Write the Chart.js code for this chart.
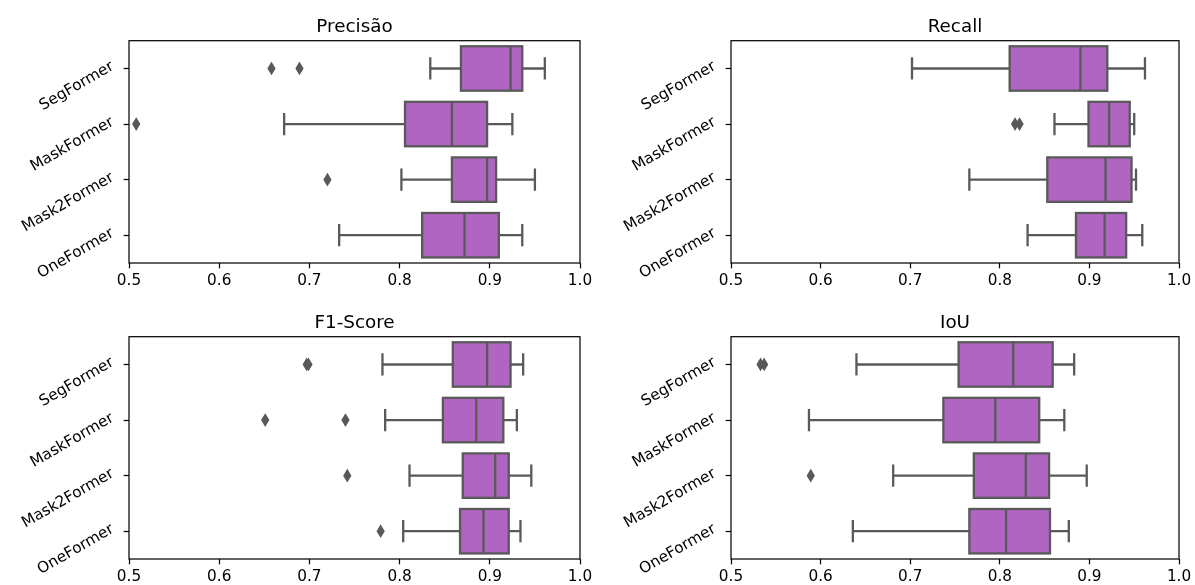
<!DOCTYPE html>
<html><head><meta charset="utf-8">
<script src="https://cdn.jsdelivr.net/npm/chart.js@4.4.0/dist/chart.umd.min.js"></script>
<style>
html,body{margin:0;padding:0;background:#fff;}
#wrap{position:relative;width:1195px;height:585px;overflow:hidden;background:#fff;}
canvas{position:absolute;}
</style></head><body>
<div id="wrap">
<canvas id="c0" width="597" height="292" style="left:0px;top:0px"></canvas>
<canvas id="c1" width="598" height="292" style="left:597px;top:0px"></canvas>
<canvas id="c2" width="597" height="293" style="left:0px;top:292px"></canvas>
<canvas id="c3" width="598" height="293" style="left:597px;top:292px"></canvas>
</div>
<script>
const models = ['SegFormer', 'MaskFormer', 'Mask2Former', 'OneFormer'];
const xTicks = [0.5, 0.6, 0.7, 0.8, 0.9, 1.0];

const precisaoMin = [0.834, 0.672, 0.802, 0.733];
const precisaoQ1  = [0.868, 0.806, 0.858, 0.825];
const precisaoMed = [0.923, 0.858, 0.897, 0.872];
const precisaoQ3  = [0.936, 0.897, 0.907, 0.910];
const precisaoMax = [0.961, 0.925, 0.950, 0.936];
const precisaoOut = [[0.658, 0.689], [0.508], [0.720], []];

const recallMin = [0.702, 0.861, 0.766, 0.831];
const recallQ1  = [0.811, 0.899, 0.853, 0.885];
const recallMed = [0.890, 0.922, 0.918, 0.917];
const recallQ3  = [0.920, 0.945, 0.947, 0.941];
const recallMax = [0.962, 0.950, 0.952, 0.959];
const recallOut = [[], [0.817, 0.822], [], []];

const f1Min = [0.781, 0.784, 0.811, 0.804];
const f1Q1  = [0.859, 0.848, 0.870, 0.867];
const f1Med = [0.897, 0.885, 0.906, 0.893];
const f1Q3  = [0.923, 0.915, 0.921, 0.921];
const f1Max = [0.937, 0.930, 0.946, 0.934];
const f1Out = [[0.697, 0.699], [0.651, 0.740], [0.742], [0.779]];

const iouMin = [0.640, 0.587, 0.681, 0.636];
const iouQ1  = [0.754, 0.737, 0.771, 0.766];
const iouMed = [0.815, 0.795, 0.829, 0.807];
const iouQ3  = [0.859, 0.844, 0.855, 0.856];
const iouMax = [0.883, 0.872, 0.897, 0.877];
const iouOut = [[0.533, 0.537], [], [0.589], []];

const FILL = '#b065c3';
const GRAY = '#595959';
const PX = 110 / 72;
const FONT = 'DejaVu Sans';
Chart.defaults.font.family = FONT;
Chart.defaults.color = '#000';

function makeBoxPlugin(stats) {
  return {
    id: 'boxExtras',
    afterDatasetsDraw(chart) {
      const ctx = chart.ctx;
      const xs = chart.scales.x;
      const meta = chart.getDatasetMeta(0);
      ctx.save();
      ctx.strokeStyle = GRAY;
      ctx.lineCap = 'butt';
      ctx.lineJoin = 'miter';
      meta.data.forEach((bar, i) => {
        const p = bar.getProps(['x', 'y', 'base', 'height'], true);
        const top = p.y - p.height / 2, bot = p.y + p.height / 2;
        const left = Math.min(p.x, p.base), right = Math.max(p.x, p.base);
        ctx.lineWidth = 1.5 * PX;
        ctx.strokeRect(left, top, right - left, bot - top);
        const lo = xs.getPixelForValue(stats.min[i]);
        const hi = xs.getPixelForValue(stats.max[i]);
        const md = xs.getPixelForValue(stats.med[i]);
        const cap = p.height / 4;
        ctx.beginPath();
        ctx.moveTo(lo, p.y); ctx.lineTo(left, p.y);
        ctx.moveTo(right, p.y); ctx.lineTo(hi, p.y);
        ctx.moveTo(lo, p.y - cap); ctx.lineTo(lo, p.y + cap);
        ctx.moveTo(hi, p.y - cap); ctx.lineTo(hi, p.y + cap);
        ctx.moveTo(md, top); ctx.lineTo(md, bot);
        ctx.stroke();
        // outliers: thin diamonds
        const hh = 5 * PX * 0.7071, hw = hh * 0.6;
        ctx.fillStyle = GRAY;
        ctx.lineWidth = 1.0 * PX;
        stats.out[i].forEach(v => {
          const ox = xs.getPixelForValue(v);
          ctx.beginPath();
          ctx.moveTo(ox, p.y - hh);
          ctx.lineTo(ox + hw, p.y);
          ctx.lineTo(ox, p.y + hh);
          ctx.lineTo(ox - hw, p.y);
          ctx.closePath();
          ctx.fill();
          ctx.stroke();
        });
      });
      ctx.restore();
    },
    afterDraw(chart) {
      const a = chart.chartArea;
      const ctx = chart.ctx;
      ctx.save();
      ctx.strokeStyle = '#000';
      ctx.lineWidth = 0.8 * PX;
      ctx.strokeRect(a.left, a.top, a.right - a.left, a.bottom - a.top);
      ctx.restore();
    }
  };
}

function makeChart(id, title, stats, geo) {
  const ds = models.map((m, i) => [stats.q1[i], stats.q3[i]]);
  return new Chart(document.getElementById(id), {
    type: 'bar',
    data: {
      labels: models,
      datasets: [{
        data: ds,
        backgroundColor: FILL,
        borderWidth: 0,
        barPercentage: 0.8,
        categoryPercentage: 1.0
      }]
    },
    options: {
      indexAxis: 'y',
      responsive: false,
      animation: false,
      devicePixelRatio: 1,
      layout: { padding: { left: 0, right: geo.right, top: 0, bottom: 0 } },
      plugins: {
        legend: { display: false },
        tooltip: { enabled: false },
        title: {
          display: true, text: title, fullSize: false, color: '#000',
          font: { family: FONT, size: 12 * PX, weight: 'normal', lineHeight: 1.2 },
          padding: { top: geo.tTop, bottom: geo.tBot }
        }
      },
      scales: {
        x: {
          type: 'linear', min: 0.5, max: 1.0,
          afterBuildTicks: s => { s.ticks = xTicks.map(v => ({ value: v })); },
          ticks: { callback: v => Number(v).toFixed(1), color: '#000', font: { size: 10 * PX }, padding: 3.5 * PX - 1.5, maxRotation: 0, autoSkip: false },
          grid: { display: true, drawOnChartArea: false, tickLength: 3.5 * PX, tickWidth: 0.8 * PX, tickColor: '#000' },
          border: { display: false },
          afterFit: s => { s.height = geo.xh; }
        },
        y: {
          type: 'category',
          ticks: { color: '#000', font: { size: 10 * PX }, padding: 11, minRotation: 30, maxRotation: 30, labelOffset: -3, autoSkip: false },
          grid: { display: true, offset: false, drawOnChartArea: false, tickLength: 3.5 * PX, tickWidth: 0.8 * PX, tickColor: '#000' },
          border: { display: false },
          afterFit: s => { s.width = geo.yw; }
        }
      }
    },
    plugins: [makeBoxPlugin(stats)]
  });
}

const lh = 12 * PX * 1.2;
makeChart('c0', 'Precisão',
  { min: precisaoMin, q1: precisaoQ1, med: precisaoMed, q3: precisaoQ3, max: precisaoMax, out: precisaoOut },
  { right: 17, yw: 129, xh: 29, tTop: 27 - lh / 2, tBot: 40.7 - 27 - lh / 2 });
makeChart('c1', 'Recall',
  { min: recallMin, q1: recallQ1, med: recallMed, q3: recallQ3, max: recallMax, out: recallOut },
  { right: 14, yw: 134, xh: 29, tTop: 27 - lh / 2, tBot: 40.7 - 27 - lh / 2 });
makeChart('c2', 'F1-Score',
  { min: f1Min, q1: f1Q1, med: f1Med, q3: f1Q3, max: f1Max, out: f1Out },
  { right: 17, yw: 129, xh: 26, tTop: 31 - lh / 2, tBot: 44.7 - 31 - lh / 2 });
makeChart('c3', 'IoU',
  { min: iouMin, q1: iouQ1, med: iouMed, q3: iouQ3, max: iouMax, out: iouOut },
  { right: 14, yw: 134, xh: 26, tTop: 31 - lh / 2, tBot: 44.7 - 31 - lh / 2 });
</script>
</body></html>
